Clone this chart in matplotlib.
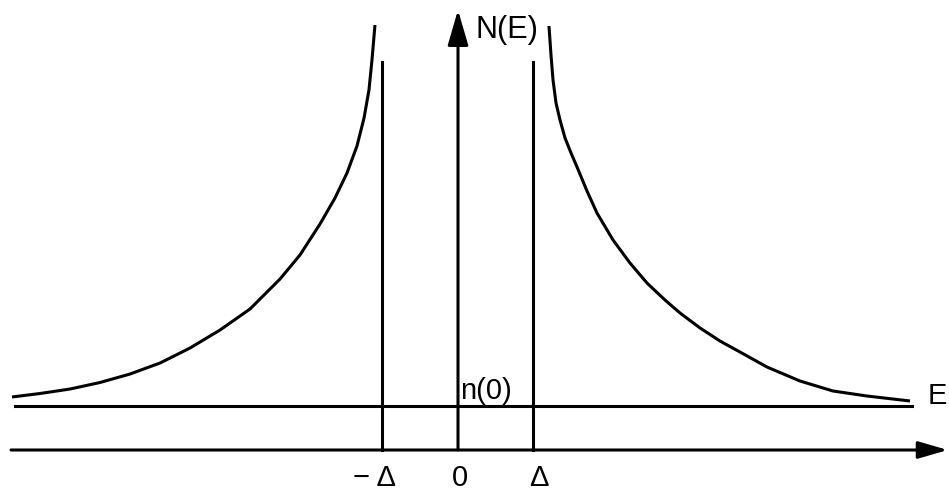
import matplotlib
matplotlib.use("Agg")
import matplotlib.pyplot as plt

# Density of states N(E) (E in units of Delta, N in units of n(0))
left_E = [-5.947, -5.573, -5.173, -4.773, -4.373, -3.973, -3.573, -3.173, -2.773,
          -2.373, -2.107, -1.840, -1.640, -1.480, -1.347, -1.253, -1.187, -1.147, -1.107]
left_N = [1.205, 1.284, 1.386, 1.534, 1.727, 1.977, 2.318, 2.727, 3.205,
          3.886, 4.432, 5.136, 5.727, 6.295, 6.909, 7.545, 8.182, 8.864, 9.659]
right_E = [1.213, 1.240, 1.267, 1.307, 1.360, 1.427, 1.507, 1.587, 1.720, 1.853,
           2.067, 2.293, 2.520, 2.760, 2.960, 3.227, 3.493, 3.760, 4.120, 4.560,
           5.000, 5.453, 6.027]
right_N = [9.636, 8.977, 8.409, 7.886, 7.500, 7.091, 6.750, 6.432, 5.886, 5.386,
           4.773, 4.250, 3.795, 3.409, 3.114, 2.773, 2.477, 2.227, 1.886, 1.568,
           1.341, 1.227, 1.114]

normal_level = 1.0            # n(0)
normal_E_range = [-5.91, 6.05]
gap_edges = [-1.02, 1.0]      # -Delta, +Delta
gap_line_top = 8.82
tick_labels = ["\u2212 \u0394", "0", "\u0394"]
tick_label_E = [-1.11, 0.03, 1.08]

plt.rcParams['font.family'] = ['Liberation Sans', 'DejaVu Sans']

fig = plt.figure(figsize=(9.49, 4.94), dpi=100)
ax = fig.add_axes([0, 0, 1, 1])
ax.set_xlim(-6.107, 6.547)
ax.set_ylim(-1.0, 10.227)
ax.axis('off')

lw = 2.2
ax.plot(left_E, left_N, color='black', lw=lw, solid_capstyle='butt', solid_joinstyle='round')
ax.plot(right_E, right_N, color='black', lw=lw, solid_capstyle='butt', solid_joinstyle='round')
ax.plot(normal_E_range, [normal_level, normal_level], color='black', lw=lw)
for e in gap_edges:
    ax.plot([e, e], [0, gap_line_top], color='black', lw=lw)

arrow_style = '-|>,head_length=1.2,head_width=0.35'
ax.annotate('', xy=(6.53, 0), xytext=(-5.96, 0),
            arrowprops=dict(arrowstyle=arrow_style, mutation_scale=15, lw=lw,
                            color='black', shrinkA=0, shrinkB=0))
ax.annotate('', xy=(0, 10.0), xytext=(0, 0),
            arrowprops=dict(arrowstyle=arrow_style, mutation_scale=18, lw=lw,
                            color='black', shrinkA=0, shrinkB=0))

ax.text(0.24, 9.55, "N(E)", fontsize=22, ha='left', va='center')
ax.text(0.03, 1.02, "n(0)", fontsize=21, ha='left', va='bottom')
ax.text(6.26, 1.23, "E", fontsize=21, ha='left', va='center')
for lab, e in zip(tick_labels, tick_label_E):
    ax.text(e, -0.64, lab, fontsize=21, ha='center', va='center')

fig.savefig("out.png", dpi=100)
